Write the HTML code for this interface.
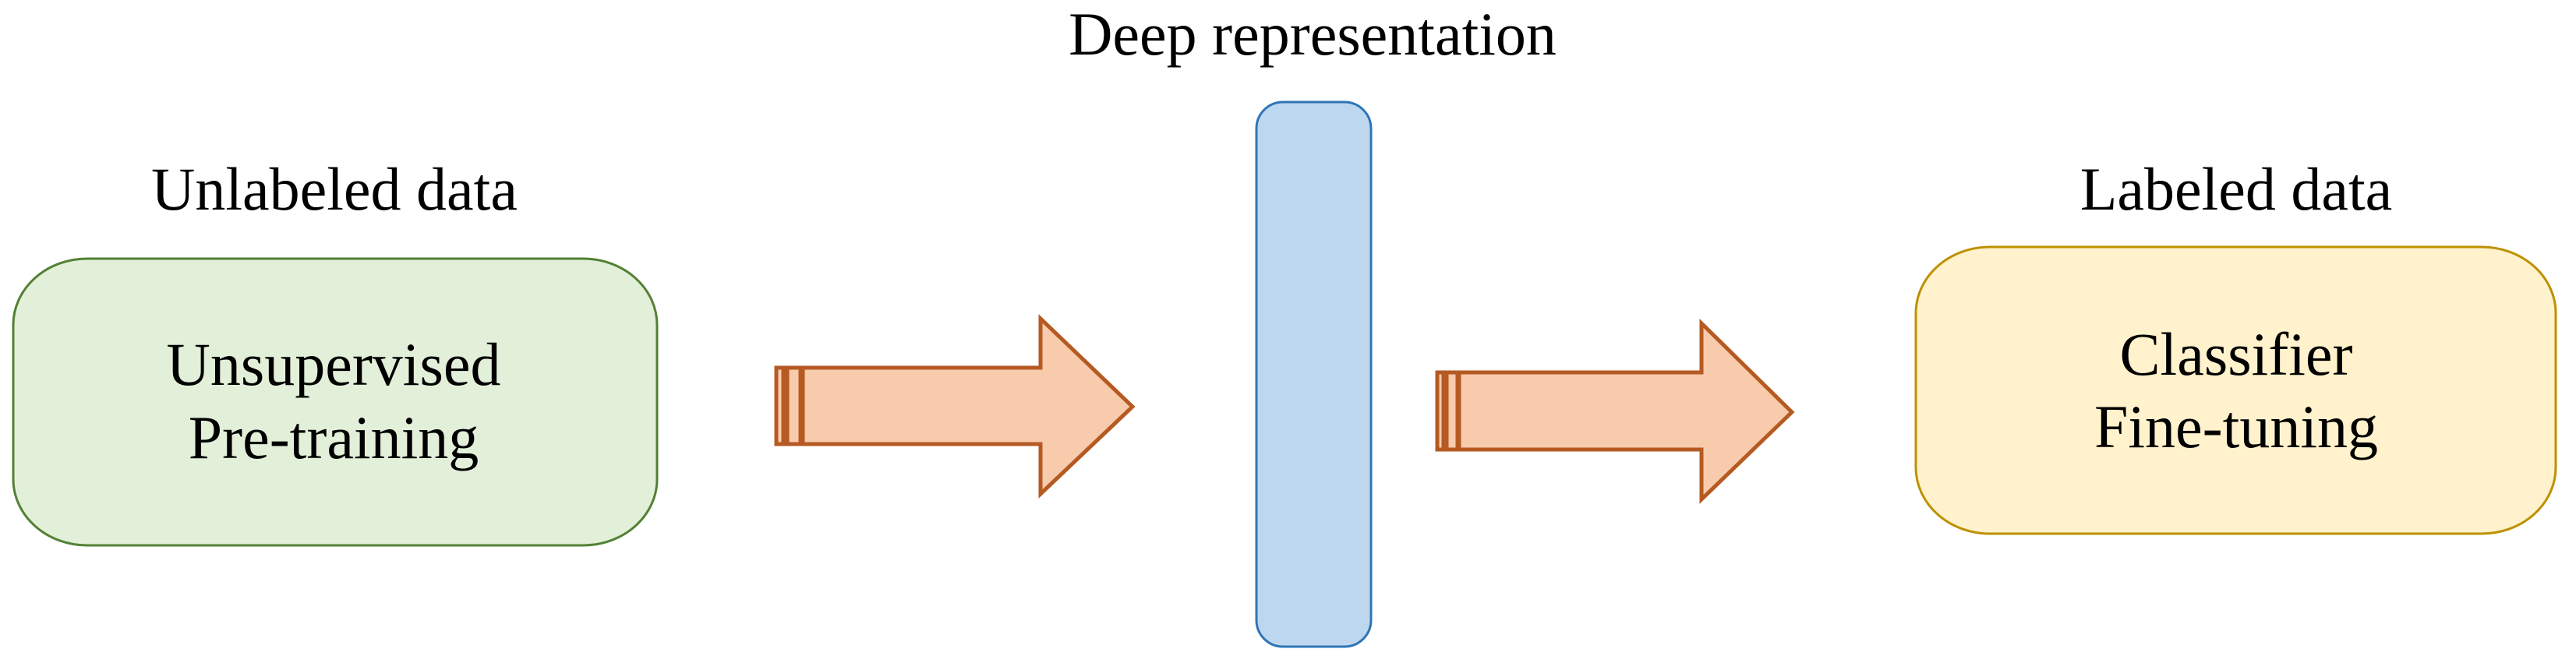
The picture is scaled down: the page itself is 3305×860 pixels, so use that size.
<!DOCTYPE html>
<html><head><meta charset="utf-8"><style>html,body{margin:0;padding:0;background:#fff}svg{display:block}</style></head>
<body>
<svg width="3305" height="860" viewBox="0 0 3305 860" xmlns="http://www.w3.org/2000/svg" font-family="'Liberation Serif', serif" font-size="78" fill="#000">
<rect x="17" y="332" width="826" height="368" rx="95" ry="85" fill="#e2efd9" stroke="#538135" stroke-width="3"/>
<rect x="2458" y="317" width="821" height="368" rx="95" ry="85" fill="#fff2cc" stroke="#bf9000" stroke-width="3"/>
<rect x="1612" y="131" width="147" height="699" rx="34" ry="34" fill="#bdd7ee" stroke="#2e75b6" stroke-width="3"/>
<g fill="#f8cbad" stroke="#b55a22" stroke-width="5">
<rect x="996" y="472" width="9" height="98"/>
<rect x="1010" y="472" width="17" height="98"/>
<polygon points="1030,472 1335,472 1335,409 1453,522 1335,634 1335,570 1030,570"/>
<rect x="1844" y="478" width="8" height="99"/>
<rect x="1856" y="478" width="14" height="99"/>
<polygon points="1872,478 2183,478 2183,415 2299,529 2183,641 2183,577 1872,577"/>
</g>
<text x="429" y="269" text-anchor="middle">Unlabeled data</text>
<text x="428" y="494" text-anchor="middle">Unsupervised</text>
<text x="428" y="588" text-anchor="middle">Pre-training</text>
<text x="1684" y="70" text-anchor="middle">Deep representation</text>
<text x="2869" y="269" text-anchor="middle">Labeled data</text>
<text x="2869" y="481" text-anchor="middle">Classifier</text>
<text x="2869" y="574" text-anchor="middle">Fine-tuning</text>
</svg>
</body></html>
